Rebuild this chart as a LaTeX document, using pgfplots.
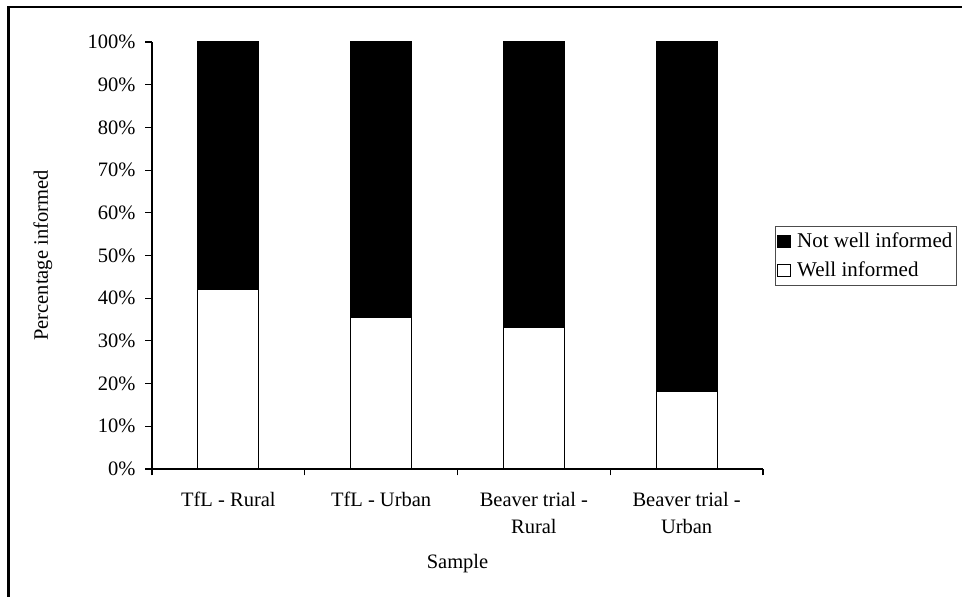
\documentclass[border=0pt]{standalone}
\usepackage{pgfplots}
\pgfplotsset{compat=1.18}
\usepackage{fontspec}
\setmainfont{Liberation Serif}

\begin{document}
\fontsize{20.5}{26.5}\selectfont
\begin{tikzpicture}[x=1pt,y=1pt]
  \useasboundingbox (0,0) rectangle (962,597);
  % outer chart frame (left and top edges)
  \draw[line width=2.5pt] (8.5,0) -- (8.5,590) -- (962,590);
  \begin{axis}[
    at={(152pt,128pt)}, anchor=south west,
    scale only axis, width=611pt, height=427pt,
    ybar stacked, bar width=0.4,
    xmin=-0.5, xmax=3.5, ymin=0, ymax=100,
    axis x line*=bottom, axis y line*=left,
    axis line style={line width=1.1pt, black},
    tick align=outside,
    major tick length=6.5pt,
    tick style={line width=1.1pt, black},
    xtick={-0.5,0.5,1.5,2.5,3.5},
    x tick label as interval,
    xticklabels={TfL - Rural, TfL - Urban, {Beaver trial -\\Rural}, {Beaver trial -\\Urban}},
    xticklabel style={align=center, font=\fontsize{20.5}{26.5}\selectfont, yshift=-10pt},
    ytick={0,10,...,100},
    yticklabels={0\%,10\%,20\%,30\%,40\%,50\%,60\%,70\%,80\%,90\%,100\%},
    yticklabel style={font=\fontsize{20.5}{24}\selectfont, xshift=-3pt},
    /pgf/number format/assume math mode=true,
    xlabel={Sample},
    xlabel style={at={(axis description cs:0.5,-0.2225)}, anchor=center, font=\fontsize{20.5}{24}\selectfont},
    ylabel={Percentage informed},
    ylabel style={at={(axis description cs:-0.1784,0.5)}, anchor=center, font=\fontsize{20.5}{24}\selectfont},
    reverse legend,
    legend style={at={(1.0196,0.5691)}, anchor=north west,
      draw=black!70, line width=0.8pt,
      font=\fontsize{21}{24}\selectfont,
      inner xsep=2pt, inner ysep=4pt, row sep=7pt,
      /tikz/every odd column/.append style={column sep=4pt},
      cells={anchor=west}},
    legend image code/.code={
      \draw[#1, line width=0.8pt] (2pt,-6.2pt) rectangle (15pt,6.2pt);},
    legend cell align=left,
  ]
    % share of respondents who were well informed
    \addplot[fill=white, draw=black, line width=1.1pt] coordinates {(0,42.0) (1,35.6) (2,33.1) (3,18.2)};
    \addlegendentry{Well informed}
    % remainder up to 100%
    \addplot[fill=black, draw=black, line width=1.1pt] coordinates {(0,58.0) (1,64.4) (2,66.9) (3,81.8)};
    \addlegendentry{Not well informed}
  \end{axis}
\end{tikzpicture}
\end{document}
